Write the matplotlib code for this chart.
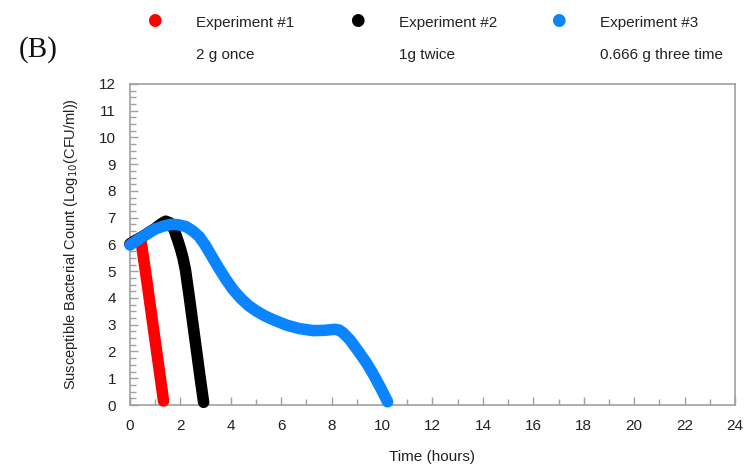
import matplotlib
matplotlib.use("Agg")
import matplotlib.pyplot as plt
from matplotlib.ticker import MultipleLocator

plt.rcParams['font.family'] = ['Liberation Sans', 'DejaVu Sans']

# Experiment #1: 2 g once
t1 = [0.0, 0.2, 0.42, 0.55, 0.7, 0.85, 1.0, 1.15, 1.33]
v1 = [6.02, 6.15, 6.25, 5.4, 4.42, 3.4, 2.38, 1.38, 0.15]

# Experiment #2: 1 g twice
t2 = [0.0, 0.5, 1.0, 1.25, 1.42, 1.6, 1.75, 1.88, 2.0, 2.1, 2.2, 2.35, 2.5, 2.65,
      2.8, 2.92]
v2 = [6.02, 6.3, 6.6, 6.78, 6.87, 6.8, 6.55, 6.2, 5.85, 5.5, 5.05, 4.05, 3.0, 1.95,
      0.9, 0.1]

# Experiment #3: 0.666 g three times
t3 = [0.0, 0.25, 0.5, 0.75, 1.0, 1.3, 1.62, 1.9, 2.22, 2.5, 2.75, 3.0, 3.25, 3.5,
      3.8, 4.1, 4.4, 4.7, 5.0, 5.35, 5.7, 6.2, 6.7, 7.26, 7.7, 8.13, 8.3, 8.45,
      8.73, 9.05, 9.39, 9.65, 9.92, 10.22]
v3 = [5.98, 6.14, 6.29, 6.44, 6.58, 6.68, 6.75, 6.74, 6.67, 6.5, 6.29, 5.95, 5.55,
      5.15, 4.7, 4.3, 3.98, 3.72, 3.52, 3.33, 3.18, 2.99, 2.86, 2.78, 2.79, 2.83,
      2.8, 2.7, 2.43, 2.02, 1.56, 1.15, 0.68, 0.12]

series = [
    (t1, v1, '#ff0000', 'Experiment #1', '2 g once'),
    (t2, v2, '#000000', 'Experiment #2', '1g twice'),
    (t3, v3, '#0a84ff', 'Experiment #3', '0.666 g three time'),
]

x_ticks = list(range(0, 25, 2))
y_ticks = list(range(0, 13))

fig = plt.figure(figsize=(7.48, 4.68), dpi=100)
ax = fig.add_axes([0.1738, 0.1346, 0.8088, 0.686])

for t, v, c, _, _ in series:
    ax.plot(t, v, color=c, lw=8.3, solid_capstyle='round',
            solid_joinstyle='round', clip_on=False, zorder=3)

ax.set_xlim(0, 24)
ax.set_ylim(0, 12)
ax.set_xticks(x_ticks)
ax.set_yticks(y_ticks)
ax.xaxis.set_minor_locator(MultipleLocator(1))
ax.yaxis.set_minor_locator(MultipleLocator(0.25))

grey = '#a0a0a0'
for s in ax.spines.values():
    s.set_color(grey)
    s.set_linewidth(1.2)
ax.tick_params(which='both', direction='in', color=grey, width=1.0,
               labelsize=11, labelcolor='#222222')
ax.tick_params(which='major', length=5.5, pad=10)
ax.tick_params(which='minor', length=4)

ax.set_xlabel('Time (hours)', fontsize=11, color='#222222', labelpad=12)
ax.set_ylabel('Susceptible Bacterial Count (Log$_{10}$(CFU/ml))', fontsize=10.5,
              color='#222222', labelpad=14)

# Legend drawn as markers with two-line captions along the top
legend_x = [154, 357, 558]
for (t, v, c, name, dose), lx in zip(series, legend_x):
    fig.text(lx / 748, 1 - 20 / 468, '\u25CF', color=c, fontsize=12,
             ha='center', va='center', family='DejaVu Sans')
    fig.text((lx + 42) / 748, 1 - 23 / 468, name, fontsize=11, color='#222222',
             ha='left', va='center')
    fig.text((lx + 42) / 748, 1 - 55 / 468, dose, fontsize=11, color='#222222',
             ha='left', va='center')

fig.text(19 / 748, 1 - 50 / 468, '(B)', fontsize=21, family='Liberation Serif',
         ha='left', va='center', color='#111111')

fig.savefig('out.png', dpi=100)
